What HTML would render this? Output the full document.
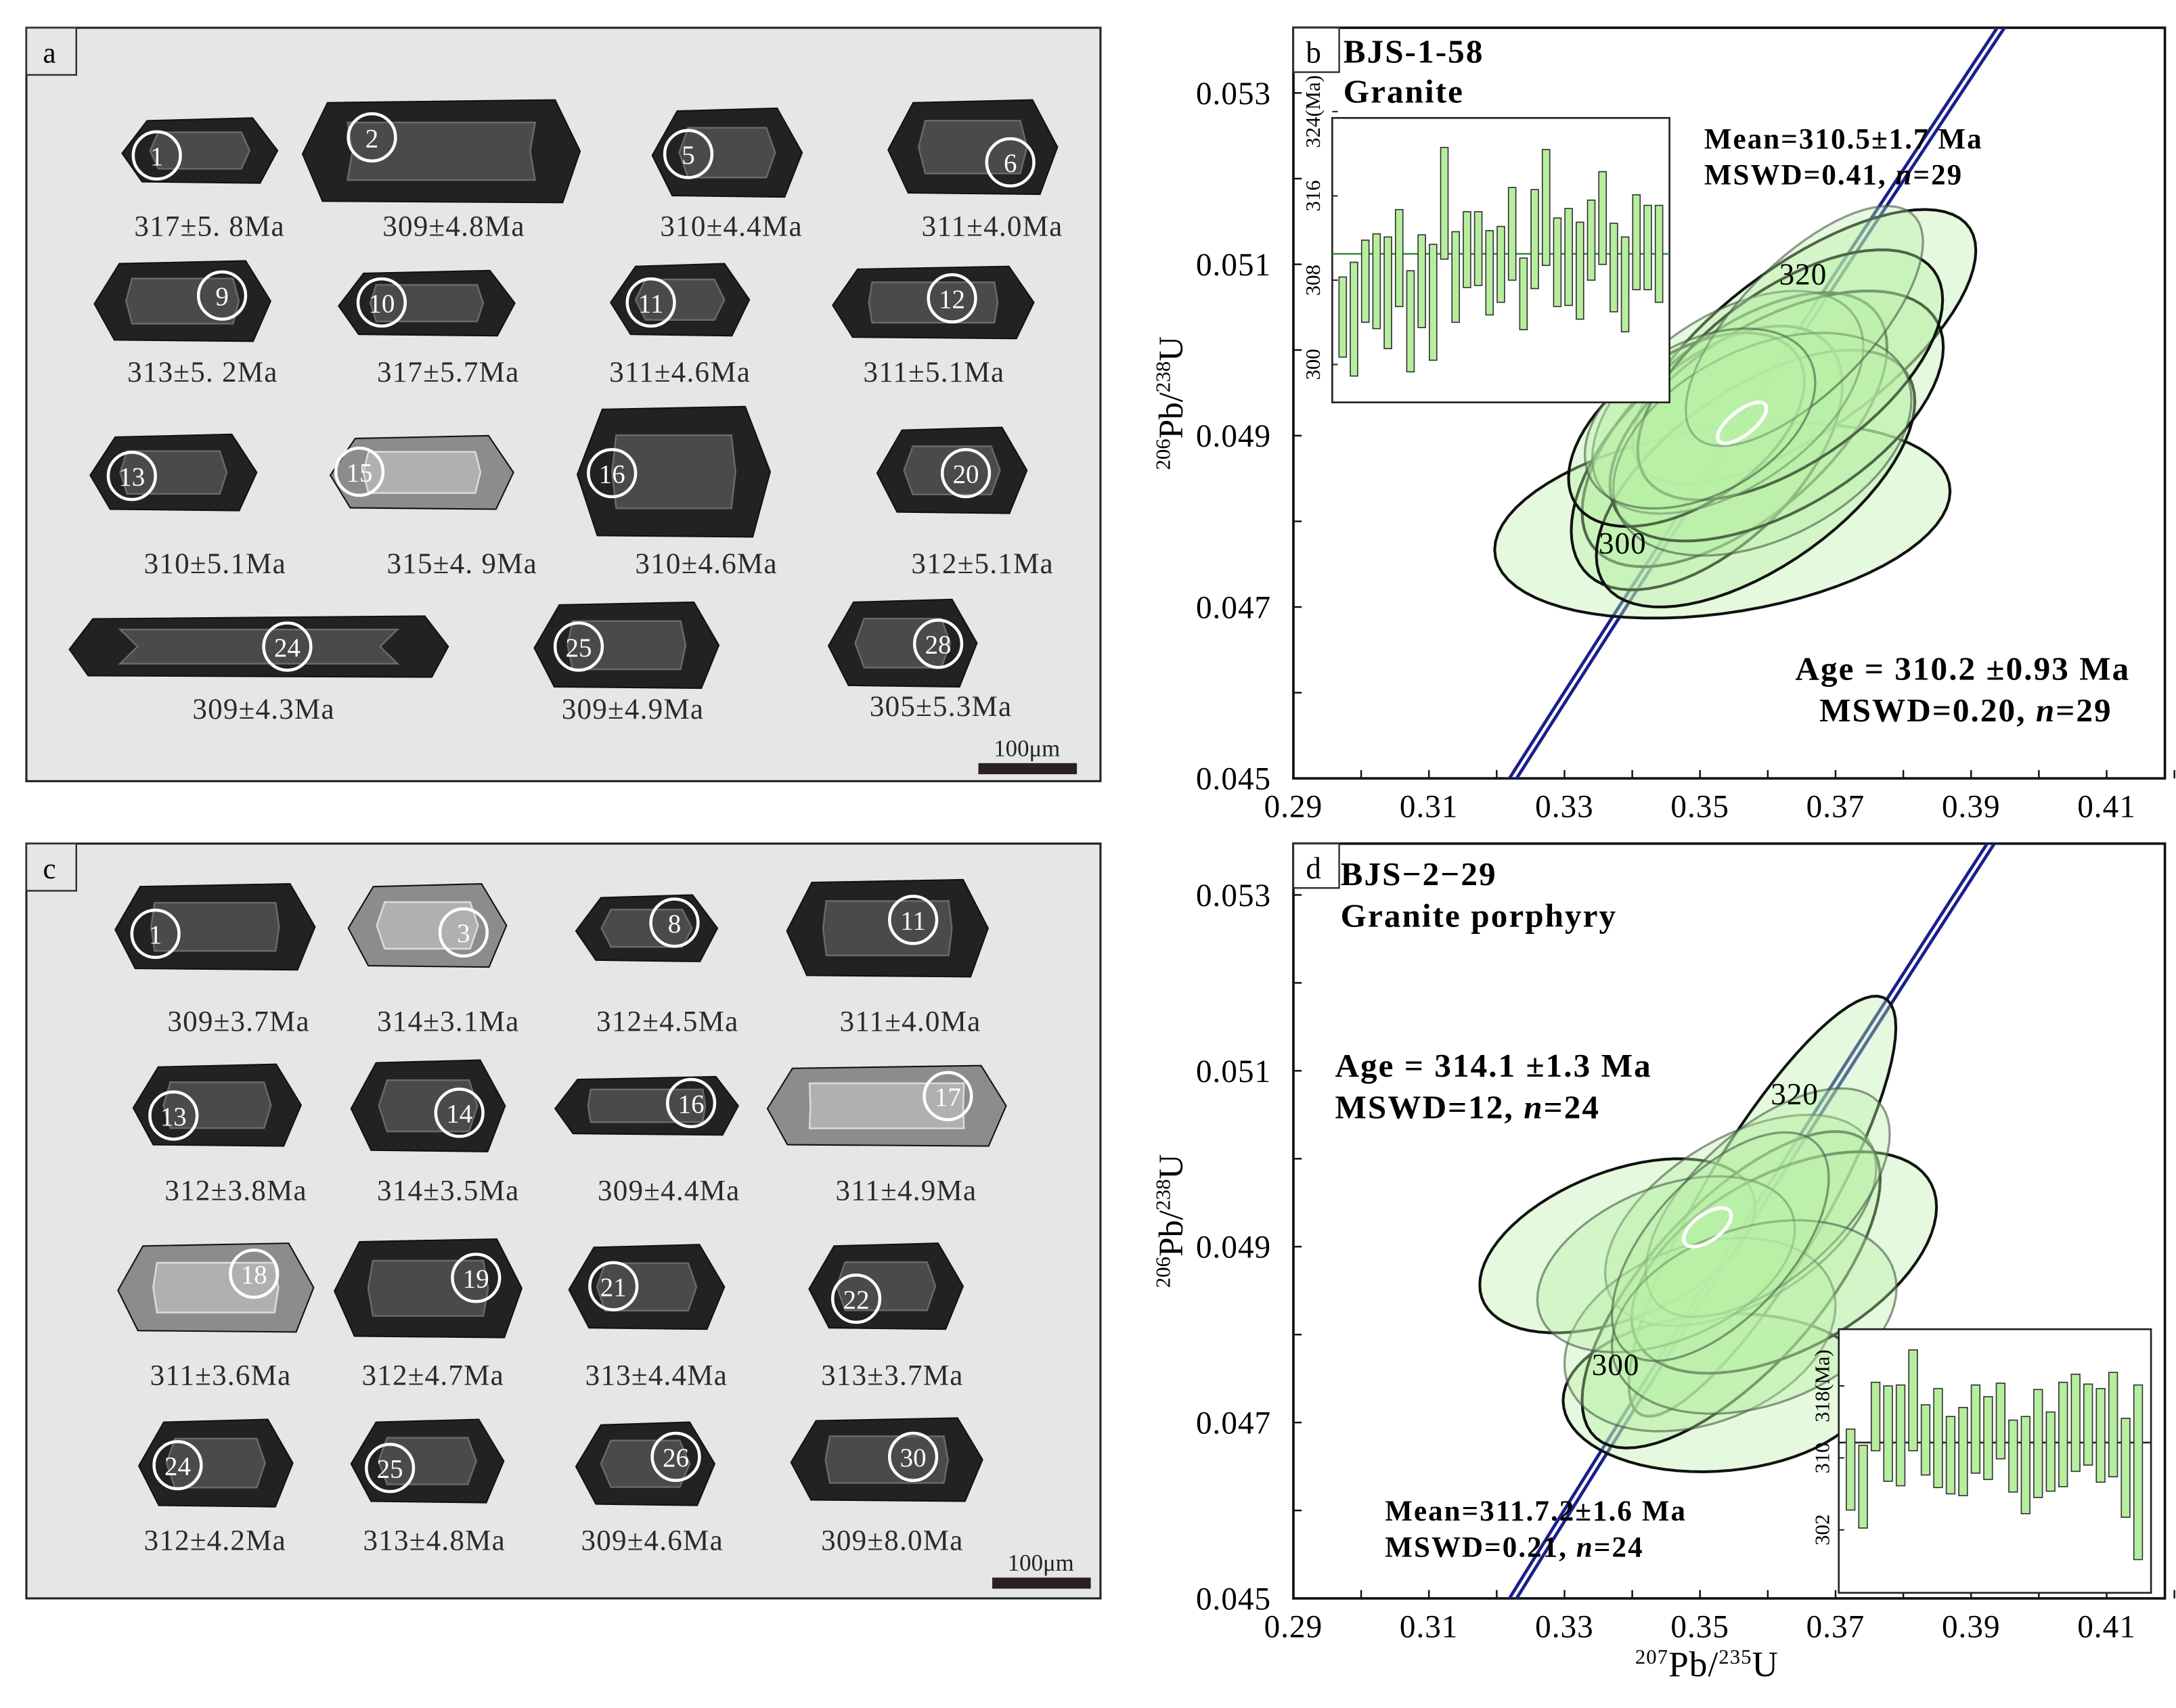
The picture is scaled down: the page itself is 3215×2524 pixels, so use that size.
<!DOCTYPE html>
<html><head><meta charset="utf-8"><style>
html,body{margin:0;padding:0;background:#fff;overflow:hidden;width:3215px;height:2524px;position:relative}
svg{display:block;position:absolute;left:0;top:0}
text{font-family:"Liberation Serif",serif}
</style></head><body>
<svg id="fig" width="3215" height="2524" viewBox="0 0 1568 1231" preserveAspectRatio="none" overflow="hidden" xmlns="http://www.w3.org/2000/svg">
<rect width="1568" height="1231" fill="#fff"/>
<g id="panelA">
<rect x="19" y="20" width="774" height="543" fill="#e6e6e6" stroke="#222" stroke-width="1.5"/>
<rect x="19" y="20" width="36" height="34" fill="#e6e6e6" stroke="#333" stroke-width="1.2"/>
<text x="31" y="45" font-size="21">a</text>
</g>
<g id="panelC">
<rect x="19" y="608" width="774" height="544" fill="#e6e6e6" stroke="#222" stroke-width="1.5"/>
<rect x="19" y="608" width="36" height="34" fill="#e6e6e6" stroke="#333" stroke-width="1.2"/>
<text x="31" y="633" font-size="21">c</text>
</g>
<g id="panelB"></g>
<g id="panelD"></g>
</svg>
<script>
// ---------- grain data (panel a & c) ----------
const aNums=["1","2","5","6","9","10","11","12","13","15","16","20","24","25","28"];
const aAges=["317±5. 8Ma","309±4.8Ma","310±4.4Ma","311±4.0Ma","313±5. 2Ma","317±5.7Ma","311±4.6Ma","311±5.1Ma","310±5.1Ma","315±4. 9Ma","310±4.6Ma","312±5.1Ma","309±4.3Ma","309±4.9Ma","305±5.3Ma"];
const aBox=[[88,85,200,132],[218,72,418,146],[470,78,578,142],[640,72,762,140],[68,188,195,246],[244,195,371,242],[440,190,540,242],[600,192,745,244],[65,313,185,368],[238,314,370,367],[416,293,555,387],[632,308,740,370],[50,444,323,488],[385,434,518,496],[597,432,704,495]];
const aCirc=[[113,112],[268,99],[496,111],[728,117],[160,213],[275,218],[469,218],[686,215],[95,343],[259,340],[441,341],[696,341],[207,466],[417,466],[676,464]];
const aLab=[[151,170],[327,170],[527,170],[715,170],[146,275],[323,275],[490,275],[673,275],[155,413],[333,413],[509,413],[708,413],[190,518],[456,518],[678,516]];
const aLight=[0,0,0,0,0,0,0,0,0,1,0,0,0,0,0];
const cNums=["1","3","8","11","13","14","16","17","18","19","21","22","24","25","26","30"];
const cAges=["309±3.7Ma","314±3.1Ma","312±4.5Ma","311±4.0Ma","312±3.8Ma","314±3.5Ma","309±4.4Ma","311±4.9Ma","311±3.6Ma","312±4.7Ma","313±4.4Ma","313±3.7Ma","312±4.2Ma","313±4.8Ma","309±4.6Ma","309±8.0Ma"];
const cBox=[[83,637,227,699],[251,637,365,697],[415,645,517,693],[567,634,712,704],[96,767,217,826],[253,764,364,830],[400,776,532,818],[553,768,725,826],[85,896,226,960],[241,893,376,964],[410,897,522,958],[583,896,694,958],[100,1023,211,1086],[253,1023,363,1083],[415,1025,515,1085],[570,1022,708,1082]];
const cCirc=[[112,673],[334,672],[486,665],[658,663],[125,804],[331,802],[498,795],[683,790],[183,918],[343,921],[442,927],[617,936],[128,1056],[281,1058],[487,1050],[658,1050]];
const cLab=[[172,743],[323,743],[481,743],[656,743],[170,865],[323,865],[482,865],[653,865],[159,998],[312,998],[473,998],[643,998],[155,1117],[313,1117],[470,1117],[643,1117]];
const cLight=[0,1,0,0,0,0,0,1,1,0,0,0,0,0,0,0];

// ---------- panel b data ----------
const bAges=[304.5,304.3,307.9,307.9,306.8,310.1,304.1,307.9,305.9,315.3,308.3,310.9,311.0,308.7,309.5,312.4,306.7,311.9,314.9,309.7,310.2,308.9,311.8,313.9,309.2,307.6,311.6,311.1,310.5];
const bErrs=[3.8,5.4,3.9,4.5,5.3,4.6,4.8,4.4,5.5,5.3,4.3,3.6,3.5,4.0,3.6,4.4,3.4,4.7,5.5,4.2,4.6,4.6,3.8,4.4,4.2,4.5,4.5,4.0,4.6];
const bMeanAge=310.5;
const bInsetTicks=[300,308,316,324];
const bCx=[0.3533,0.3654,0.3551,0.3510,0.3582,0.3613,0.3480,0.3633,0.3541,0.3592,0.3654,0.3500];
const bCy=[0.04801,0.05004,0.04907,0.04874,0.04850,0.04923,0.04907,0.04971,0.04939,0.04890,0.05028,0.04920];
const bSx=[0.0336,0.0253,0.0225,0.0200,0.0235,0.0246,0.0174,0.0225,0.0200,0.0220,0.0175,0.0170];
const bSy=[0.00114,0.00160,0.00160,0.00154,0.00150,0.00146,0.00113,0.00146,0.00130,0.00130,0.00140,0.00105];
const bRho=[0.30,0.70,0.60,0.55,0.60,0.55,0.50,0.60,0.50,0.40,0.70,0.40];
const bMean=[0.3562,0.04915,0.0036,0.00024,0.70];
// ---------- panel d data ----------
const dAges=[308.7,306.8,314.6,312.7,312.5,316.4,312.0,312.2,310.3,310.7,313.2,312.2,314.1,310.2,309.2,311.6,310.7,312.6,313.9,313.7,312.5,313.7,308.9,308.4];
const dErrs=[4.5,4.6,3.8,5.3,5.6,5.6,3.9,5.5,4.3,4.9,4.9,4.6,4.2,4.0,5.4,6.0,4.4,5.8,5.4,4.5,5.2,5.8,5.5,9.7];
const dMeanAge=311.7;
const dInsetTicks=[302,310,318];
const dCx=[0.3592,0.3378,0.3525,0.3546,0.3624,0.3560,0.3500,0.3600,0.3450,0.3580,0.3530];
const dCy=[0.04946,0.04901,0.04734,0.04851,0.04882,0.04930,0.04800,0.04950,0.04880,0.04820,0.04900];
const dSx=[0.0197,0.0203,0.0227,0.0220,0.0225,0.0200,0.0200,0.0180,0.0190,0.0210,0.0160];
const dSy=[0.00239,0.00099,0.00090,0.00180,0.00126,0.00120,0.00110,0.00130,0.00100,0.00110,0.00130];
const dRho=[0.85,0.45,0.10,0.70,0.50,0.50,0.30,0.60,0.40,0.30,0.60];
const dMean=[0.3511,0.04922,0.0035,0.00022,0.60];
const xTicks=[0.29,0.31,0.33,0.35,0.37,0.39,0.41];
const yTicks=[0.045,0.047,0.049,0.051,0.053];

const NS="http://www.w3.org/2000/svg";
function mk(tag,attrs,parent){const e=document.createElementNS(NS,tag);for(const k in attrs)e.setAttribute(k,attrs[k]);parent.appendChild(e);return e;}

function drawGrains(parent,nums,ages,boxes,circs,labs,light,prefix){
  for(let i=0;i<nums.length;i++){
    const [x1,y1,x2,y2]=boxes[i];const h=y2-y1;const c=Math.min(18,h/2.6);const ym=(y1+y2)/2;
    const g=mk('g',{},parent);
    
    
    const pts=`${x1+c},${y1+2} ${x2-c},${y1} ${x2},${ym} ${x2-c*0.7},${y2} ${x1+c*0.8},${y2-1} ${x1},${ym+2}`;
    mk('polygon',{points:pts,fill:light[i]?'#8c8c8c':'#222',stroke:'#111','stroke-width':1},g);
    const ix=(x2-x1)*0.18, iy=h*0.22;
    const pts2=`${x1+c+ix*0.4},${y1+iy} ${x2-c-ix*0.4},${y1+iy} ${x2-ix},${ym} ${x2-c-ix*0.4},${y2-iy} ${x1+c+ix*0.4},${y2-iy} ${x1+ix},${ym}`;
    mk('polygon',{points:pts2,fill:light[i]?'#b0b0b0':'#4a4a4a',stroke:light[i]?'#ddd':'#6a6a6a','stroke-width':1.2},g);
    const [cx,cy]=circs[i];
    const ci=mk('circle',{cx:cx,cy:cy,r:17,fill:'none',stroke:'#fff','stroke-width':2.2},g);
    
    
    const t=mk('text',{x:cx,y:cy+7,'font-size':19,'text-anchor':'middle',fill:'#fff'},g);t.textContent=nums[i];
    const l=mk('text',{x:labs[i][0],y:labs[i][1],'font-size':21,'letter-spacing':0.6,'text-anchor':'middle',fill:'#2a2a2a'},parent);
    
    
    l.textContent=ages[i];
  }
}
const pA=document.getElementById('panelA'),pC=document.getElementById('panelC');
drawGrains(pA,aNums,aAges,aBox,aCirc,aLab,aLight,'a');
drawGrains(pC,cNums,cAges,cBox,cCirc,cLab,cLight,'c');
function scaleBar(parent,x,y,prefix){
  const t=mk('text',{x:x+35,y:y,'font-size':17,'text-anchor':'middle',fill:'#222'},parent);
  
  
  t.textContent='100μm';
  const r=mk('rect',{x:x,y:y+5,width:71,height:8,fill:'#2a2220'},parent);
  
  
}
scaleBar(pA,705,545,'a');scaleBar(pC,715,1132,'c');

// ---------- concordia panels ----------
function drawConc(g,cfg){
  const X=v=>932+(v-0.29)/0.02*97.67;
  const Y=v=>cfg.y045-(v-0.045)/0.002*cfg.py;
  const top=cfg.top;
  const b=cfg.bottom;
  const clipId='clip'+cfg.id;
  const defs=mk('defs',{},g);const cp=mk('clipPath',{id:clipId},defs);
  mk('rect',{x:932,y:top,width:628,height:b-top},cp);
  mk('rect',{x:932,y:top,width:628,height:b-top,fill:'#fff',stroke:'#111','stroke-width':1.8},g);
  const plot=mk('g',{'clip-path':`url(#${clipId})`},g);
  let d='';
  for(let t=260;t<=360;t+=2){const x=Math.exp(9.8485e-10*t*1e6)-1,y=Math.exp(1.55125e-10*t*1e6)-1;d+=(d?'L':'M')+X(x).toFixed(2)+','+Y(y).toFixed(2);}
  [-2.6,2.6].forEach(o=>{const p=mk('path',{d:d,fill:'none',stroke:'#1a1f8c','stroke-width':2.3,transform:`translate(${o},0)`},plot);
    
    });
  function ell(cx,cy,sx,sy,rho){let s='';for(let k=0;k<=72;k++){const th=k/72*2*Math.PI,u=Math.cos(th),v=Math.sin(th);
    const x=cx+sx*u,y=cy+sy*(rho*u+Math.sqrt(1-rho*rho)*v);s+=(k?'L':'M')+X(x).toFixed(2)+','+Y(y).toFixed(2);}return s+'Z';}
  for(let i=0;i<cfg.cx.length;i++){
    const black=i<cfg.nBlack;
    const e=mk('path',{d:ell(cfg.cx[i],cfg.cy[i],cfg.sx[i],cfg.sy[i],cfg.rho[i]),fill:'rgba(185,240,165,0.38)',stroke:black?'#111':'rgba(70,90,70,0.6)','stroke-width':black?2:1.6},plot);
    
    
  }
  const m=cfg.mean;
  const me=mk('path',{d:ell(m[0],m[1],m[2],m[3],m[4]),fill:'none',stroke:'#fff','stroke-width':2.5},plot);
  
  
  for(let v=0.29;v<=0.4201;v+=0.01){mk('line',{x1:X(v),x2:X(v),y1:b,y2:b-6,stroke:'#111','stroke-width':1.2},g);}
  xTicks.forEach(v=>{const t=mk('text',{x:X(v),y:b+28,'font-size':23,'letter-spacing':0.5,'text-anchor':'middle'},g);
    
    
    t.textContent=v.toFixed(2);});
  for(let v=0.045;v<=0.0541;v+=0.001){const yy=Y(v);if(yy<top)continue;mk('line',{x1:932,x2:938,y1:yy,y2:yy,stroke:'#111','stroke-width':1.2},g);}
  yTicks.forEach(v=>{const t=mk('text',{x:916,y:Y(v)+8,'font-size':23,'letter-spacing':0.5,'text-anchor':'end'},g);
    
    
    t.textContent=v.toFixed(3);});
  const yt=mk('text',{x:0,y:0,'font-size':25,'text-anchor':'middle',transform:`translate(${852},${(top+b)/2}) rotate(-90)`},g);
  
  
  yt.innerHTML='<tspan font-size="15" dy="-9">206</tspan><tspan dy="9">Pb/</tspan><tspan font-size="15" dy="-9">238</tspan><tspan dy="9">U</tspan>';
  mk('rect',{x:932,y:top,width:33,height:32,fill:'#fff',stroke:'#333','stroke-width':1.2},g);
  const pl=mk('text',{x:941,y:top+25,'font-size':22},g);pl.textContent=cfg.letter;
  cfg.texts.forEach(tx=>{const t=mk('text',{x:tx[0],y:tx[1],'font-size':tx[3],'font-weight':tx[4]?'bold':'normal','letter-spacing':tx[4]?1:0.5,'text-anchor':tx[5]||'start'},g);
    
    
    t.innerHTML=tx[2];});
  const [ix1,iy1,ix2,iy2]=cfg.inset;
  const ins=mk('g',{},g);
  
  
  mk('rect',{x:ix1,y:iy1,width:ix2-ix1,height:iy2-iy1,fill:'#fff',stroke:'#222','stroke-width':1.3},ins);
  const IY=v=>iy1+(cfg.iMax-v)/(cfg.iMax-cfg.iMin)*(iy2-iy1);
  const n=cfg.ages.length,w=(ix2-ix1)*cfg.bw;
  const IX=i=>ix1+(ix2-ix1)*(cfg.b0+(cfg.b1-cfg.b0)*i/(n-1));
  mk('line',{x1:ix1,x2:ix2,y1:IY(cfg.meanAge),y2:IY(cfg.meanAge),stroke:cfg.lineCol,'stroke-width':1.2},ins);
  for(let i=0;i<n;i++){const r=mk('rect',{x:IX(i),y:IY(cfg.ages[i]+cfg.errs[i]),width:w,height:IY(cfg.ages[i]-cfg.errs[i])-IY(cfg.ages[i]+cfg.errs[i]),fill:'#b6ee9e',stroke:'#333','stroke-width':0.8},ins);
    
    }
  cfg.iTicks.forEach((v,k)=>{mk('line',{x1:ix1,x2:ix1+4,y1:IY(v),y2:IY(v),stroke:'#222'},ins);
    const t=mk('text',{x:0,y:0,'font-size':15,'text-anchor':'middle',transform:`translate(${cfg.iLabX},${IY(v)}) rotate(-90)`},ins);
    
    
    t.textContent=v+(k===cfg.iTicks.length-1?'(Ma)':'');});
}
drawConc(document.getElementById('panelB'),{id:'b',letter:'b',top:20,bottom:561,y045:561,py:123.5,
  cx:bCx,cy:bCy,sx:bSx,sy:bSy,rho:bRho,nBlack:8,mean:bMean,
  ages:bAges,errs:bErrs,meanAge:bMeanAge,iTicks:bInsetTicks,iMin:296.4,iMax:323.4,inset:[960,85,1203,290],b0:0.02,b1:0.958,bw:0.022,iLabX:951,lineCol:'#3b8a3b',
  texts:[[968,45,'BJS-1-58',24,1,'start','sample-title'],[968,74,'Granite',24,1,'start','rock-type'],
  [1228,107,'Mean=310.5±1.7 Ma',21,1,'start','mean-age-text'],[1228,133,'MSWD=0.41, <tspan font-style="italic">n</tspan>=29',21,1,'start','mean-mswd-text'],
  [1535,490,'Age = 310.2 ±0.93 Ma',24,1,'end','concordia-age-text'],[1522,520,'MSWD=0.20, <tspan font-style="italic">n</tspan>=29',24,1,'end','concordia-mswd-text'],
  [1282,205,'320',22,0,'start','age-marker-320'],[1152,399,'300',22,0,'start','age-marker-300']]});
drawConc(document.getElementById('panelD'),{id:'d',letter:'d',top:608,bottom:1152,y045:1152,py:126.75,
  cx:dCx,cy:dCy,sx:dSx,sy:dSy,rho:dRho,nBlack:5,mean:dMean,
  ages:dAges,errs:dErrs,meanAge:dMeanAge,iTicks:dInsetTicks,iMin:295.0,iMax:324.3,inset:[1325,958,1550,1148],b0:0.024,b1:0.945,bw:0.0275,iLabX:1318,lineCol:'#222',
  texts:[[966,638,'BJS−2−29',24,1,'start','sample-title'],[966,668,'Granite porphyry',24,1,'start','rock-type'],
  [962,776,'Age = 314.1 ±1.3 Ma',24,1,'start','concordia-age-text'],[962,806,'MSWD=12, <tspan font-style="italic">n</tspan>=24',24,1,'start','concordia-mswd-text'],
  [998,1096,'Mean=311.7.2±1.6 Ma',21,1,'start','mean-age-text'],[998,1122,'MSWD=0.21, <tspan font-style="italic">n</tspan>=24',21,1,'start','mean-mswd-text'],
  [1276,796,'320',22,0,'start','age-marker-320'],[1147,991,'300',22,0,'start','age-marker-300'],
  [1230,1208,'<tspan font-size="15" dy="-9">207</tspan><tspan dy="9">Pb/</tspan><tspan font-size="15" dy="-9">235</tspan><tspan dy="9">U</tspan>',26,0,'middle','x-axis-title']]});
</script>
</body></html>
